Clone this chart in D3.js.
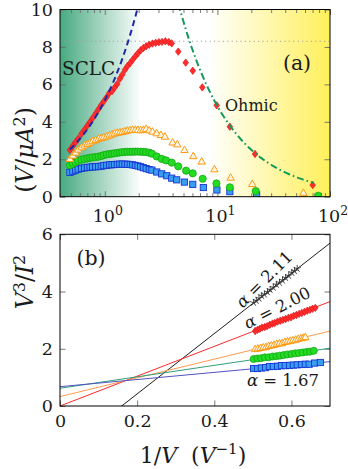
<!DOCTYPE html>
<html><head><meta charset="utf-8">
<script src="https://cdn.jsdelivr.net/npm/d3@7"></script>
<style>
body{margin:0;background:#fff}
svg{display:block}
svg text{font-family:"DejaVu Serif","Liberation Serif",serif;fill:#1a1a1a}
</style>
</head><body>
<svg id="c" width="348" height="469"></svg>
<script>
// ---------- Panel (a): V/I^2 vs V (log x) ----------
const redV   = [0.49,0.52,0.55,0.58,0.62,0.66,0.70,0.74,0.78,0.83,0.88,0.93,0.98,1.04,1.10,1.16,1.22,1.29,1.36,1.43,1.51,1.59,1.68,1.77,1.87,1.97,2.08,2.20,2.33,2.48,2.65,2.83,3.02,3.22,3.45,3.70,3.93,4.49,5.23,6.04,7.34,9.86,12.9,21.6,70.2];
const redVal = [2.50,2.72,2.92,3.10,3.36,3.58,3.80,4.00,4.20,4.45,4.68,4.90,5.10,5.32,5.55,5.64,5.82,6.02,6.30,6.52,6.78,6.98,7.14,7.32,7.50,7.66,7.82,7.94,8.04,8.12,8.18,8.22,8.25,8.27,8.30,8.26,8.19,7.75,7.16,6.73,5.84,4.88,3.74,2.28,0.62];

const orangeV   = [0.49,0.52,0.55,0.58,0.62,0.66,0.70,0.74,0.78,0.83,0.88,0.93,0.98,1.04,1.10,1.16,1.22,1.29,1.36,1.43,1.51,1.59,1.68,1.77,1.87,1.97,2.08,2.20,2.33,2.48,2.65,2.89,3.15,3.42,4.0,4.4,5.1,6.1,7.25,9.4,13.1,20.4,58];
const orangeVal = [2.02,2.20,2.36,2.52,2.64,2.74,2.82,2.90,2.97,3.03,3.10,3.14,3.18,3.22,3.28,3.33,3.38,3.42,3.44,3.46,3.50,3.54,3.56,3.58,3.58,3.57,3.55,3.58,3.63,3.55,3.48,3.39,3.30,3.21,2.90,2.80,2.50,2.17,1.88,1.47,1.02,0.68,0.21];

const greenV   = [0.49,0.52,0.55,0.58,0.62,0.66,0.70,0.74,0.78,0.83,0.88,0.93,0.98,1.04,1.10,1.16,1.22,1.29,1.36,1.43,1.51,1.59,1.68,1.77,1.87,1.97,2.08,2.20,2.33,2.48,2.62,2.89,3.2,3.5,3.93,4.49,5.27,6.04,7.4,9.8,12.9,21.9,78.7];
const greenVal = [1.68,1.76,1.84,1.92,1.98,2.02,2.05,2.08,2.10,2.12,2.14,2.18,2.22,2.26,2.28,2.30,2.32,2.34,2.36,2.38,2.39,2.40,2.40,2.40,2.41,2.41,2.40,2.39,2.38,2.35,2.30,2.15,2.02,1.94,1.82,1.62,1.39,1.25,0.96,0.71,0.50,0.30,0.05];

const blueV   = [0.49,0.52,0.55,0.58,0.62,0.66,0.70,0.74,0.78,0.83,0.88,0.93,0.98,1.04,1.10,1.16,1.22,1.29,1.36,1.43,1.51,1.59,1.68,1.77,1.87,1.97,2.08,2.20,2.33,2.48,2.62,2.89,3.2,3.55,3.93,4.35,5.09,6.04,7.5,9.9,12.9,22.3,78.7];
const blueVal = [1.30,1.36,1.42,1.47,1.51,1.54,1.56,1.58,1.59,1.60,1.61,1.63,1.66,1.68,1.70,1.71,1.72,1.73,1.74,1.74,1.74,1.73,1.72,1.70,1.67,1.64,1.60,1.55,1.50,1.45,1.42,1.32,1.22,1.12,0.99,0.90,0.78,0.66,0.49,0.36,0.27,0.10,0.01];

const peakLevel = 8.3;
const sclcCoef = 5.15, sclcStartV = 0.49;          // V/I^2 = c * V
const ohmCoef = 43.1, ohmExp = 0.95, ohmEndV = 72;  // V/I^2 = c / V^0.95

const topYTicks = [0,2,4,6,8,10];
const topXMajor = [1,10,100];
const topXLabels = ["0","1","2"];

// ---------- Panel (b): V^3/I^2 vs 1/V ----------
const blackX = [0.502,0.509,0.516,0.523,0.530,0.538,0.545,0.553,0.561,0.569,0.577,0.585,0.593,0.601,0.608,0.615];
const blackY = [3.61,3.68,3.76,3.85,3.90,3.98,4.06,4.14,4.24,4.31,4.39,4.48,4.55,4.66,4.72,4.80];
const redX = [0.506,0.512,0.518,0.524,0.531,0.537,0.544,0.551,0.557,0.564,0.571,0.578,0.585,0.592,0.599,0.606,0.613,0.620,0.627,0.634,0.641,0.648,0.655,0.662];
const redY = [2.62,2.66,2.70,2.74,2.76,2.79,2.84,2.88,2.90,2.95,2.98,3.01,3.04,3.08,3.10,3.15,3.18,3.22,3.25,3.29,3.33,3.36,3.40,3.43];
const orangeX = [0.506,0.513,0.520,0.527,0.534,0.541,0.548,0.555,0.562,0.569,0.576,0.583,0.590,0.597,0.604,0.611,0.618,0.625,0.631,0.636];
const orangeY = [1.99,2.01,2.03,2.05,2.06,2.10,2.12,2.14,2.17,2.19,2.20,2.24,2.26,2.28,2.30,2.32,2.35,2.37,2.39,2.41];
const greenX = [0.502,0.512,0.521,0.531,0.541,0.551,0.561,0.570,0.580,0.590,0.600,0.610,0.619,0.629,0.639,0.648,0.658];
const greenY = [1.64,1.66,1.67,1.70,1.70,1.73,1.74,1.76,1.78,1.80,1.82,1.84,1.85,1.87,1.89,1.90,1.93];
const blueX = [0.502,0.512,0.522,0.533,0.543,0.553,0.564,0.574,0.584,0.595,0.605,0.615,0.626,0.636,0.646,0.660,0.675];
const blueY = [1.31,1.31,1.33,1.34,1.38,1.38,1.39,1.41,1.41,1.42,1.43,1.44,1.45,1.46,1.46,1.50,1.52];

const fitSlopes     = [10.54, 5.21, 3.27, 2.0, 1.25];
const fitIntercepts = [-1.686, 0, 0.33, 0.62, 0.675];
const fitColors     = ["#1c1c1c", "#ff2a2a", "#ff9a50", "#2f9f7c", "#5252c0"];

const botYTicks = [0,2,4,6];
const botXTicks = [0,0.2,0.4,0.6];

// ---------- setup ----------
const svg = d3.select('#c');
const A = {l:60, r:330, t:9.5, b:196.7};
const B = {l:60, r:330, t:234.3, b:406};
const xa = d3.scaleLog().domain([0.4,100]).range([A.l,A.r]);
const ya = d3.scaleLinear().domain([0,10]).range([A.b,A.t]);
const xb = d3.scaleLinear().domain([0,0.7]).range([B.l,B.r]);
const yb = d3.scaleLinear().domain([0,6]).range([B.b,B.t]);
const FONT = '"DejaVu Serif","Liberation Serif",serif';

const defs = svg.append('defs');
const grad = defs.append('linearGradient').attr('id','bg').attr('x1',0).attr('x2',1).attr('y1',0).attr('y2',0);
[[0,'#48aa80'],[0.30,'#ffffff'],[0.55,'#ffffff'],[1,'#fff05a']].forEach(s=>grad.append('stop').attr('offset',s[0]).attr('stop-color',s[1]));
defs.append('clipPath').attr('id','clipA').append('rect').attr('x',A.l).attr('y',A.t).attr('width',A.r-A.l).attr('height',A.b-A.t);
defs.append('clipPath').attr('id','clipB').append('rect').attr('x',B.l).attr('y',B.t).attr('width',B.r-B.l).attr('height',B.b-B.t);

const FS = 17.5;
function styleAxis(g){ g.attr('font-family',FONT); g.select('.domain').remove(); g.selectAll('line').attr('stroke','#6a6a6a').attr('stroke-width',0.9); g.selectAll('text').attr('font-size',FS).attr('font-family',FONT).attr('fill','#1a1a1a'); }

// ---------- Panel (a) ----------
svg.append('rect').attr('x',A.l).attr('y',A.t).attr('width',A.r-A.l).attr('height',A.b-A.t).attr('fill','url(#bg)');

const minorTicks = xa.ticks().filter(v=>!topXMajor.includes(v));
svg.append('g').attr('transform',`translate(0,${A.b})`).call(d3.axisBottom(xa).tickValues(minorTicks).tickSize(-3.5).tickFormat('')).call(styleAxis);
svg.append('g').attr('transform',`translate(0,${A.t})`).call(d3.axisTop(xa).tickValues(minorTicks).tickSize(-3.5).tickFormat('')).call(styleAxis);
svg.append('g').attr('transform',`translate(0,${A.b})`).call(d3.axisBottom(xa).tickValues(topXMajor).tickSize(-5.5).tickFormat('')).call(styleAxis);
svg.append('g').attr('transform',`translate(0,${A.t})`).call(d3.axisTop(xa).tickValues(topXMajor).tickSize(-5.5).tickFormat('')).call(styleAxis);
svg.append('g').attr('transform',`translate(${A.l},0)`).call(d3.axisLeft(ya).tickValues(topYTicks).tickSize(-5.5).tickPadding(7).tickFormat(d3.format('d'))).call(styleAxis);
svg.append('g').attr('transform',`translate(${A.r},0)`).call(d3.axisRight(ya).tickValues(topYTicks).tickSize(-5.5).tickFormat('')).call(styleAxis);

topXMajor.forEach((v,i)=>{
  const t = svg.append('text').attr('x',xa(v)+3).attr('y',222).attr('text-anchor','middle').attr('font-size',FS);
  t.append('tspan').text('10');
  t.append('tspan').attr('dy',-7.5).attr('font-size',12.5).text(topXLabels[i]);
});

const gA = svg.append('g').attr('clip-path','url(#clipA)');
gA.append('line').attr('x1',A.l).attr('x2',A.r).attr('y1',ya(peakLevel)).attr('y2',ya(peakLevel))
  .attr('stroke','#a0a0a0').attr('stroke-width',1.1).attr('stroke-dasharray','1.2,3.2');

const diamond = (w,h)=>`M0,${-h}L${w},0L0,${h}L${-w},0Z`;
const tri = `M0,-3.9L3.7,2.6L-3.7,2.6Z`;

function zipXY(xs,ys){ return xs.map((x,i)=>[x,ys[i]]); }

gA.selectAll('.bsq').data(zipXY(blueV,blueVal)).join('rect')
  .attr('x',d=>xa(d[0])-3.1).attr('y',d=>ya(d[1])-3.1).attr('width',6.2).attr('height',6.2)
  .attr('fill','#3a9ef0').attr('stroke','#1535d0').attr('stroke-width',0.9);
gA.selectAll('.gci').data(zipXY(greenV,greenVal)).join('circle')
  .attr('cx',d=>xa(d[0])).attr('cy',d=>ya(d[1])).attr('r',3.6)
  .attr('fill','#22dd22').attr('stroke','#16a516').attr('stroke-width',0.8);
gA.selectAll('.otr').data(zipXY(orangeV,orangeVal)).join('path')
  .attr('d',tri).attr('transform',d=>`translate(${xa(d[0])},${ya(d[1])})`)
  .attr('fill','#fff6e6').attr('stroke','#ff9a10').attr('stroke-width',1);
gA.selectAll('.rdi').data(zipXY(redV,redVal)).join('path')
  .attr('d',diamond(2.8,3.7)).attr('transform',d=>`translate(${xa(d[0])},${ya(d[1])})`)
  .attr('fill','#ff2d2d').attr('stroke','#e01818').attr('stroke-width',0.7);

// fitted model curves
const sclcTop = 10/sclcCoef;
const sclcPts = d3.range(0,41).map(i=>{const v=sclcStartV*Math.pow(sclcTop*1.02/sclcStartV,i/40); return [v, sclcCoef*v];});
gA.append('path').attr('d',d3.line().x(d=>xa(d[0])).y(d=>ya(d[1]))(sclcPts))
  .attr('fill','none').attr('stroke','#1f2aa0').attr('stroke-width',2).attr('stroke-dasharray','6,4');
const ohmStart = Math.pow(ohmCoef/10.3, 1/ohmExp);
const ohmPts = d3.range(0,61).map(i=>{const v=ohmStart*Math.pow(ohmEndV/ohmStart,i/60); return [v, ohmCoef/Math.pow(v,ohmExp)];});
gA.append('path').attr('d',d3.line().x(d=>xa(d[0])).y(d=>ya(d[1]))(ohmPts))
  .attr('fill','none').attr('stroke','#129a5c').attr('stroke-width',2).attr('stroke-dasharray','7,3,1.6,3');

svg.append('rect').attr('x',A.l).attr('y',A.t).attr('width',A.r-A.l).attr('height',A.b-A.t)
  .attr('fill','none').attr('stroke','#000').attr('stroke-width',1);

svg.append('text').attr('x',62).attr('y',75).attr('font-size',18.5).text('SCLC');
svg.append('text').attr('x',297).attr('y',70).attr('text-anchor','middle').attr('font-size',20.5).text('(a)');
svg.append('text').attr('x',225).attr('y',110.5).attr('font-size',16).text('Ohmic');

// ---------- Panel (b) ----------
svg.append('g').attr('transform',`translate(0,${B.b})`).call(d3.axisBottom(xb).tickValues(botXTicks).tickSize(-5.5).tickPadding(8.5).tickFormat(d=>d===0?'0':d3.format('.1f')(d))).call(styleAxis);
svg.append('g').attr('transform',`translate(0,${B.t})`).call(d3.axisTop(xb).tickValues(botXTicks).tickSize(-5.5).tickFormat('')).call(styleAxis);
svg.append('g').attr('transform',`translate(${B.l},0)`).call(d3.axisLeft(yb).tickValues(botYTicks).tickSize(-5.5).tickPadding(7).tickFormat(d3.format('d'))).call(styleAxis);
svg.append('g').attr('transform',`translate(${B.r},0)`).call(d3.axisRight(yb).tickValues(botYTicks).tickSize(-5.5).tickFormat('')).call(styleAxis);

const gB = svg.append('g').attr('clip-path','url(#clipB)');
fitSlopes.forEach((m,i)=>{
  const b = fitIntercepts[i];
  gB.append('line').attr('x1',xb(0)).attr('y1',yb(b)).attr('x2',xb(0.7)).attr('y2',yb(b+m*0.7))
    .attr('stroke',fitColors[i]).attr('stroke-width',1);
});

gB.selectAll('.bsq').data(zipXY(blueX,blueY)).join('rect')
  .attr('x',d=>xb(d[0])-3.1).attr('y',d=>yb(d[1])-3.1).attr('width',6.2).attr('height',6.2)
  .attr('fill','#3a9ef0').attr('stroke','#1535d0').attr('stroke-width',0.9);
gB.selectAll('.gci').data(zipXY(greenX,greenY)).join('circle')
  .attr('cx',d=>xb(d[0])).attr('cy',d=>yb(d[1])).attr('r',3.5)
  .attr('fill','#22dd22').attr('stroke','#16a516').attr('stroke-width',0.8);
gB.selectAll('.otr').data(zipXY(orangeX,orangeY)).join('path')
  .attr('d',tri).attr('transform',d=>`translate(${xb(d[0])},${yb(d[1])})`)
  .attr('fill','#fff6e6').attr('stroke','#ff9a10').attr('stroke-width',1);
gB.selectAll('.rdi').data(zipXY(redX,redY)).join('path')
  .attr('d',diamond(2.8,3.7)).attr('transform',d=>`translate(${xb(d[0])},${yb(d[1])})`)
  .attr('fill','#ff2d2d').attr('stroke','#e01818').attr('stroke-width',0.7);
const starPath = d3.range(5).map(k=>{const a=-Math.PI/2+k*2*Math.PI/5; return `M0,0L${(3.8*Math.cos(a)).toFixed(2)},${(3.8*Math.sin(a)).toFixed(2)}`;}).join('');
gB.selectAll('.bst').data(zipXY(blackX,blackY)).join('path')
  .attr('d',starPath).attr('transform',d=>`translate(${xb(d[0])},${yb(d[1])})`)
  .attr('fill','none').attr('stroke','#333').attr('stroke-width',0.9);

svg.append('rect').attr('x',B.l).attr('y',B.t).attr('width',B.r-B.l).attr('height',B.b-B.t)
  .attr('fill','none').attr('stroke','#000').attr('stroke-width',1);

svg.append('text').attr('x',91).attr('y',265).attr('text-anchor','middle').attr('font-size',20.5).text('(b)');

function alphaLabel(x,y,ang,val){
  const t = svg.append('text').attr('transform',`translate(${x},${y}) rotate(${ang})`).attr('text-anchor','middle').attr('dominant-baseline','central').attr('font-size',16.5);
  t.append('tspan').attr('font-style','italic').text('α');
  t.append('tspan').text(' = ' + val);
}
alphaLabel(264,279,-45,'2.11');
alphaLabel(277,307.5,-27,'2.00');
alphaLabel(283,380,0,'1.67');

// axis titles (y title split in two parts as in the figure)
const yl1 = svg.append('text').attr('transform','translate(33,150) rotate(-90)').attr('text-anchor','middle').attr('font-size',23.5);
yl1.append('tspan').text('(');
yl1.append('tspan').attr('font-style','italic').text('V');
yl1.append('tspan').text('/');
yl1.append('tspan').attr('font-style','italic').text('μA');
yl1.append('tspan').attr('dy',-8.5).attr('font-size',16).text('2');
yl1.append('tspan').attr('dy',8.5).text(')');
const yl2 = svg.append('text').attr('transform','translate(33,282) rotate(-90)').attr('text-anchor','middle').attr('font-size',23.5);
yl2.append('tspan').attr('font-style','italic').text('V');
yl2.append('tspan').attr('dy',-8.5).attr('font-size',16).text('3');
yl2.append('tspan').attr('dy',8.5).text('/');
yl2.append('tspan').attr('font-style','italic').text('I');
yl2.append('tspan').attr('dy',-8.5).attr('font-size',16).text('2');

const xl = svg.append('text').attr('x',193).attr('y',463).attr('text-anchor','middle').attr('font-size',22);
xl.append('tspan').text('1/');
xl.append('tspan').attr('font-style','italic').text('V');
xl.append('tspan').attr('dx',14).text('(');
xl.append('tspan').attr('font-style','italic').text('V');
xl.append('tspan').attr('dy',-9).attr('font-size',15).text('−1');
xl.append('tspan').attr('dy',9).text(')');
</script>
</body></html>
